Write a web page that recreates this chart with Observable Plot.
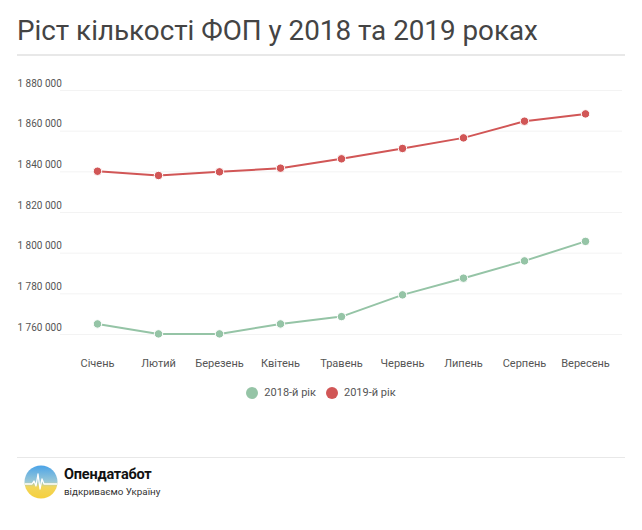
<!DOCTYPE html>
<html>
<head>
<meta charset="utf-8">
<script src="https://cdn.jsdelivr.net/npm/d3@7"></script>
<script src="https://cdn.jsdelivr.net/npm/@observablehq/plot@0.6"></script>
<style>
  html, body { margin: 0; padding: 0; background: #fff; }
  body { width: 642px; height: 530px; position: relative; font-family: Roboto, "Noto Sans", sans-serif; overflow: hidden; }
  #title { position: absolute; left: 17px; top: 12px; font-size: 27.8px; line-height: 38px; color: #444; font-weight: 400; white-space: nowrap; }
  #rule1 { position: absolute; left: 17px; top: 54px; width: 608px; height: 2px; background: #e8e8e8; }
  #chart { position: absolute; left: 0; top: 60px; }
  #legend { position: absolute; left: 0; top: 386px; width: 642px; display: flex; justify-content: center; gap: 10px; font-size: 11px; color: #555; }
  #legend .item { display: flex; align-items: center; gap: 6px; }
  #legend .sw { width: 12px; height: 12px; border-radius: 50%; display: inline-block; }
  #rule2 { position: absolute; left: 17px; top: 457px; width: 608px; height: 1px; background: #e8e8e8; }
  #logo { position: absolute; left: 24px; top: 465px; }
  #brand { position: absolute; left: 64px; top: 466px; font-size: 14.5px; font-weight: 700; color: #111; letter-spacing: -0.2px; }
  #tag { position: absolute; left: 64px; top: 486px; font-size: 9.8px; color: #333; }
</style>
</head>
<body>
<div id="title">Ріст кількості ФОП у 2018 та 2019 роках</div>
<div id="rule1"></div>
<div id="chart"></div>
<div id="legend"></div>
<div id="rule2"></div>
<svg id="logo" width="34" height="34" viewBox="0 0 34 34">
  <defs>
    <linearGradient id="lg" x1="0" y1="0" x2="0" y2="1">
      <stop offset="0" stop-color="#4aa3e8"/>
      <stop offset="0.5" stop-color="#9cc9d6"/>
      <stop offset="0.65" stop-color="#f2d65a"/>
      <stop offset="1" stop-color="#f5cf3d"/>
    </linearGradient>
  </defs>
  <circle cx="17" cy="17" r="16.5" fill="url(#lg)"/>
  <polyline points="1,19 8,19 10,16 12,21 14,9 16,24 18,14 20,19 33,19" fill="none" stroke="#fff" stroke-width="1.3" stroke-linejoin="round"/>
</svg>
<div id="brand">Опендатабот</div>
<div id="tag">відкриваємо Україну</div>
<script>
const months = ["Січень","Лютий","Березень","Квітень","Травень","Червень","Липень","Серпень","Вересень"];
const series = ["2018-й рік", "2019-й рік"];
const colors = ["#95c4a6", "#d15656"];
const values2018 = [1765200, 1760300, 1760300, 1765200, 1768800, 1779500, 1787700, 1796200, 1805800];
const values2019 = [1840300, 1838200, 1840000, 1841800, 1846400, 1851500, 1856700, 1864900, 1868500];
const yTicks = [1760000, 1780000, 1800000, 1820000, 1840000, 1860000, 1880000];

const data = [
  ...months.map((m, i) => ({month: m, value: values2018[i], series: series[0]})),
  ...months.map((m, i) => ({month: m, value: values2019[i], series: series[1]}))
];
const fmt = d => d3.format(",")(d).replace(/,/g, " ");

const chart = Plot.plot({
  width: 642,
  height: 320,
  marginLeft: 63,
  marginRight: 24,
  marginTop: 30,
  marginBottom: 46,
  style: {fontFamily: "Roboto, 'Noto Sans', sans-serif", background: "transparent"},
  x: {type: "point", domain: months, padding: 0.5, label: null},
  y: {domain: [1760000, 1880000], axis: null},
  color: {domain: series, range: colors},
  marks: [
    Plot.ruleY(yTicks, {stroke: "#f3f3f3", strokeWidth: 1, insetLeft: -3, insetRight: -4}),
    Plot.text(yTicks, {y: d => d, text: fmt, frameAnchor: "left", textAnchor: "start", dx: -46, dy: -7, fontSize: 10, fill: "#555"}),
    Plot.axisX({tickSize: 0, tickPadding: 25, fontSize: 11, color: "#555", label: null}),
    Plot.line(data, {x: "month", y: "value", stroke: "series", z: "series", strokeWidth: 2}),
    Plot.dot(data, {x: "month", y: "value", fill: "series", r: 4.2, stroke: "#fff", strokeWidth: 1})
  ]
});
document.getElementById("chart").appendChild(chart);

const legend = document.getElementById("legend");
series.forEach((s, i) => {
  const item = document.createElement("div");
  item.className = "item";
  const sw = document.createElement("span");
  sw.className = "sw";
  sw.style.background = colors[i];
  const t = document.createElement("span");
  t.textContent = s;
  item.appendChild(sw);
  item.appendChild(t);
  legend.appendChild(item);
});
</script>
</body>
</html>
